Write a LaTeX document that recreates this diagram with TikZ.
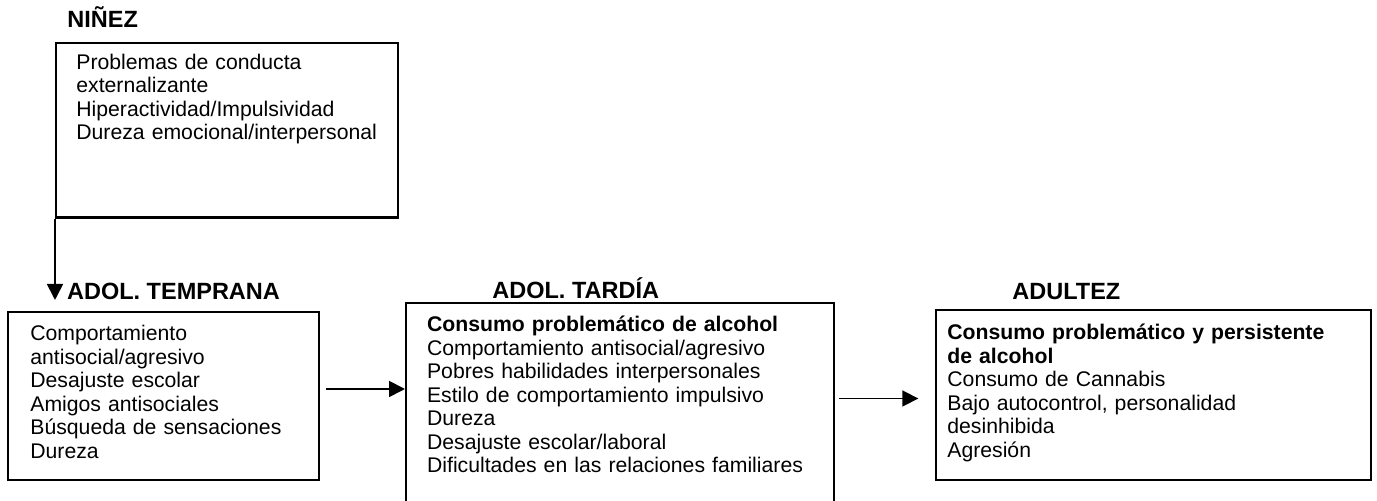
\documentclass[tikz,border=0pt]{standalone}
\usepackage{fontspec}
\setmainfont{Liberation Sans}
\usetikzlibrary{arrows.meta}
\tikzset{
  caja/.style = {draw, line width=1.1pt, inner sep=0pt, anchor=north west},
  titulo/.style = {anchor=base west, inner sep=0pt, font=\fontsize{11.75}{14}\selectfont\bfseries},
  texto/.style = {anchor=base west, inner sep=0pt, text width=#1, align=left,
                  font=\fontsize{10.6}{11.75}\selectfont},
  flecha/.style = {line width=0.9pt, -{Triangle[length=8pt,width=8pt]}}
}
\begin{document}
\begin{tikzpicture}[x=0.5pt, y=-0.5pt]
\useasboundingbox (0,0) rectangle (1377,501);
% Ninez
%-----------------------------------------------------------%
  \node[titulo] (t-ninez) at (67,28) {NIÑEZ};
  \node[caja, minimum width=171pt, minimum height=87.4pt] (ninez) at (55,41.7) {};
  \node[texto=165pt] (x-ninez) at (76,69.5)
    {Problemas de conducta\\ externalizante\\ Hiperactividad/Impulsividad\\ Dureza emocional/interpersonal};
% Adolescencia temprana
%-----------------------------------------------------------%
  \node[titulo] (t-temprana) at (66.7,300) {ADOL. TEMPRANA};
  \node[caja, minimum width=155.6pt, minimum height=84.2pt] (temprana) at (7,310.7) {};
  \node[texto=150pt] (x-temprana) at (30,341)
    {Comportamiento\\ antisocial/agresivo\\ Desajuste escolar\\ Amigos antisociales\\ Búsqueda de sensaciones\\ Dureza};
% Adolescencia tardia
%-----------------------------------------------------------%
  \node[titulo] (t-tardia) at (492,298.3) {ADOL. TARDÍA};
  \node[caja, minimum width=214pt, minimum height=106.5pt] (tardia) at (405,302) {};
  \node[texto=205pt] (x-tardia) at (426.7,332)
    {\textbf{Consumo problemático de alcohol}\\ Comportamiento antisocial/agresivo\\ Pobres habilidades interpersonales\\ Estilo de comportamiento impulsivo\\ Dureza\\ Desajuste escolar/laboral\\ Dificultades en las relaciones familiares};
% Adultez
%-----------------------------------------------------------%
  \node[titulo] (t-adultez) at (1012,300) {ADULTEZ};
  \node[caja, minimum width=217.5pt, minimum height=85pt] (adultez) at (934.5,309.3) {};
  \node[texto=205pt] (x-adultez) at (947,340)
    {\textbf{Consumo problemático y persistente}\\ \textbf{de alcohol}\\ Consumo de Cannabis\\ Bajo autocontrol, personalidad\\ desinhibida\\ Agresión};
% arrows
%-----------------------------------------------------------%
  \coordinate (c-baja) at (55,300);
  \coordinate (c-a1) at (326,389);
  \coordinate (c-a2) at (839.3,398.5);
  \coordinate (c-a2fin) at (918.3,398.5);
  \draw[flecha] (ninez.south west) -- (c-baja);
  \draw[flecha] (c-a1) -- (tardia.west |- c-a1);
  \draw[flecha] (c-a2) -- (c-a2fin);
\end{tikzpicture}
\end{document}
